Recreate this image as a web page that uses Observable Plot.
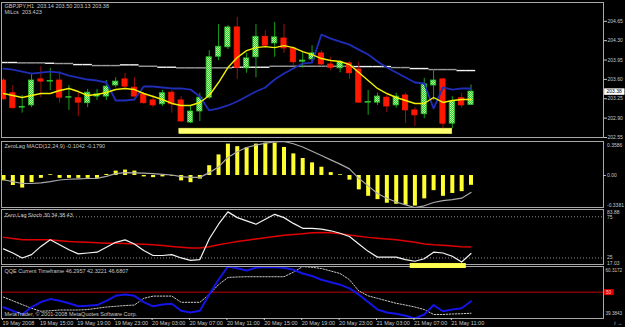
<!DOCTYPE html>
<html><head><meta charset="utf-8">
<script src="https://cdn.jsdelivr.net/npm/d3@7"></script>
<script src="https://cdn.jsdelivr.net/npm/@observablehq/plot@0.6"></script>
<style>
html,body{margin:0;padding:0;background:#000;}
#chart{position:relative;width:625px;height:327px;background:#000;overflow:hidden;}
#chart svg{position:absolute;left:0;top:0;background:transparent;}
</style></head><body><div id="chart"></div>
<script>
// ---------- DATA ----------
const timeLabels = ["19 May 2008","19 May 15:00","19 May 19:00","19 May 23:00","20 May 03:00","20 May 07:00","20 May 11:00","20 May 15:00","20 May 19:00","20 May 23:00","21 May 03:00","21 May 07:00","21 May 11:00"];
const open  = [203.58,203.35,203.09,203.13,203.60,203.56,203.58,203.27,203.26,203.17,203.29,203.29,203.49,203.60,203.45,203.33,203.22,203.15,203.36,203.22,202.82,203.02,203.27,204.01,204.18,204.54,203.80,204.00,204.37,204.25,204.34,204.16,203.92,203.96,204.07,203.87,203.80,203.89,203.78,203.18,203.18,203.27,203.13,203.31,203.04,202.97,203.49,203.60,202.80,203.26,203.14];
const high  = [203.62,203.49,203.31,203.71,203.83,203.80,203.74,203.49,203.35,203.42,203.42,203.58,203.63,203.71,203.63,203.36,203.31,203.40,203.40,203.29,203.11,203.35,204.12,204.59,204.57,204.72,204.07,204.59,204.48,204.63,204.59,204.19,204.09,204.21,204.12,204.00,203.94,203.92,203.91,203.40,203.35,203.31,203.35,203.35,203.09,203.62,203.78,203.62,203.29,203.35,203.50];
const low   = [203.22,203.06,202.99,203.09,203.27,203.40,203.17,203.04,202.93,203.09,203.22,203.22,203.45,203.44,203.27,203.15,203.09,203.11,202.99,202.82,202.80,202.84,203.24,203.94,204.14,203.60,203.71,203.63,204.18,204.00,204.07,203.85,203.80,203.89,203.83,203.76,203.72,203.60,203.17,202.95,203.13,203.00,203.08,202.80,202.75,202.89,203.22,202.71,202.71,203.08,203.13];
const close = [203.24,203.08,203.10,203.58,203.56,203.57,203.27,203.28,203.18,203.36,203.33,203.47,203.56,203.47,203.29,203.17,203.13,203.35,203.15,202.84,203.02,203.27,204.00,204.19,204.54,203.81,203.98,204.37,204.21,204.36,204.16,203.91,203.94,204.07,203.87,203.81,203.91,203.71,203.18,203.19,203.29,203.11,203.29,203.04,202.95,203.51,203.58,202.80,203.20,203.13,203.38];
const maYellow = [203.345,203.309,203.273,203.309,203.345,203.345,203.399,203.436,203.381,203.309,203.327,203.363,203.417,203.436,203.417,203.345,203.291,203.237,203.165,203.129,203.129,203.183,203.309,203.544,203.814,203.995,204.121,204.175,204.193,204.175,204.211,204.175,204.103,204.049,203.977,203.941,203.923,203.868,203.724,203.580,203.436,203.345,203.273,203.219,203.165,203.165,203.273,203.183,203.219,203.237,203.237];
const maBlue = [203.796,203.778,203.742,203.706,203.724,203.742,203.724,203.670,203.634,203.598,203.580,203.544,203.219,203.219,203.237,203.472,203.472,203.454,203.436,203.436,203.417,203.291,203.039,203.075,203.129,203.201,203.291,203.381,203.454,203.598,203.706,203.796,203.887,203.905,204.410,204.338,204.283,204.229,204.139,204.049,203.923,203.814,203.724,203.634,203.544,203.526,203.075,203.454,203.417,203.436,203.436];
const maWhite = [203.905,203.905,203.899,203.899,203.899,203.892,203.887,203.887,203.868,203.868,203.850,203.850,203.850,203.863,203.863,203.838,203.838,203.820,203.820,203.809,203.809,203.809,203.809,203.809,203.809,203.820,203.820,203.820,203.820,203.838,203.838,203.838,203.838,203.838,203.838,203.838,203.838,203.838,203.832,203.832,203.832,203.832,203.814,203.814,203.796,203.796,203.778,203.778,203.778,203.760,203.760];
const priceTicks = [204.65,204.30,203.95,203.60,203.25,202.90,202.55];
const priceHighlight = [{from: 18.8, to: 48.0, low: 202.61, high: 202.71}];
const macdHist = [-0.057,-0.106,-0.133,-0.076,-0.030,0.008,-0.030,-0.030,-0.030,-0.030,-0.030,0.011,0.046,0.057,0.046,-0.015,-0.023,-0.015,-0.008,-0.057,-0.076,-0.038,0.103,0.217,0.331,0.304,0.293,0.331,0.342,0.342,0.296,0.228,0.179,0.133,0.087,0.030,0.008,-0.049,-0.152,-0.220,-0.255,-0.293,-0.304,-0.315,-0.323,-0.247,-0.160,-0.220,-0.190,-0.171,-0.104];
const macdSignal = [-0.045,-0.065,-0.085,-0.085,-0.078,-0.065,-0.048,-0.040,-0.035,-0.032,-0.030,-0.010,0.020,0.030,0.028,0.025,0.020,0.012,0.005,-0.012,-0.020,-0.020,0.030,0.090,0.190,0.250,0.295,0.320,0.340,0.355,0.3586,0.335,0.300,0.255,0.210,0.165,0.120,0.070,-0.030,-0.110,-0.190,-0.240,-0.280,-0.310,-0.3381,-0.320,-0.285,-0.266,-0.255,-0.240,-0.179];
const stochMain = [36,31,25,29,39,47,41,35,30,31,32,38,44,47,42,34,28,28,29,25,22,23,48,66,81,74,70,66,72,78,74,67,61,61,60,58,55,51,42,33,26,26,26,23,21,24,32,31,27,20,30.34];
const stochSignal = [50,48.5,47,47,47,47,46,45,44.5,44,43.5,43,43,42.5,42,41.5,41,40,39,38,37,37,38.5,41,43,45,46.5,48,49.5,51,52.5,53.5,54.5,55.5,56,55.5,54.5,53,51.5,50,49,48,47,45.5,44,42,41,40.5,39.5,38.5,38.43];
const stochLevels = [75, 25];
const stochHighlight = [{from: 43.5, to: 49.5, low: 12.2, high: 18.2}];
const qqeMain = [43.9,42.5,41,44,46,47.2,46.5,45.5,44.3,44.5,44.8,46.5,48.5,49,48.5,46,44.3,45,45.3,42.5,41.8,42.5,49,55,60.3,59.6,58.7,59.8,60.1,60.0,59.8,59,57.5,56.5,55,54,53,51.5,49,46,43,41.8,41.3,40.5,39.4,41,44.8,42.3,43,43.5,46.3];
const qqeSlow = [48,46.5,45,43.5,42.3,42.5,42.8,42.8,42.8,43,43.5,44,44.3,44.6,44.8,47.5,48.4,48.4,48.4,45.9,45.9,45.9,49,53,55.9,56.1,56.2,56.2,56.2,56.2,56.2,58,60.3,60,59.5,58.5,57.5,55,50.5,48.5,47.5,46.5,45.5,44.8,44,43,41,41,41.2,41.3,41.5];
const qqeLevel = 50;
const titles = {
  main: "GBPJPY,H1  203.14 203.50 203.13 203.38",
  mainSub: "MiLcs  203.423",
  macd: "ZeroLag MACD(12,24,9) -0.1042 -0.1790",
  stoch: "Zero Lag Stoch 30.34 38.43",
  qqe: "QQE Current Timeframe 46.2957 42.3221 46.6807",
  copy: "MetaTrader, © 2001-2008 MetaQuotes Software Corp."
};
const macdRange = [-0.3381, 0.3586];
const stochRange = [17.03, 83.88];
const qqeRange = [39.3843, 60.3172];

// ---------- BUILD ----------
const W = 625, H = 327;
const XD = [-0.214, 64.17];
const TXT = "#c8c8c8";
const FONT = "Liberation Sans, Arial, sans-serif";
const FS = 5.5;
const FSR = 5;

const bars = close.map((c, i) => ({i, open: open[i], high: high[i], low: low[i], close: c, bull: c >= open[i]}));
let g = 0;
const whiteSteps = maWhite.map((v, i) => { if (i > 0 && v !== maWhite[i-1]) g++; return {i, v, g}; });
const idx = (arr) => arr.map((v, i) => ({i, v}));

function panel(top, bottom, ydomain, marks) {
  return Plot.plot({
    width: W, height: H,
    marginLeft: 1, marginRight: 22, marginTop: top, marginBottom: H - bottom,
    x: {type: "linear", domain: XD, axis: null},
    y: {type: "linear", domain: ydomain, axis: null},
    style: {background: "transparent", color: TXT, fontFamily: FONT, fontSize: FS + "px"},
    marks
  });
}
const rightLabel = (v, text, opt = {}) => Plot.text([v], {y: d => d, text: () => text, frameAnchor: "right", dx: 3.5, textAnchor: "start", fill: TXT, fontSize: FSR, ...opt});
const rightTick = (vals) => Plot.ruleY(vals, {x1: XD[1], x2: XD[1] + 0.3, stroke: TXT, strokeWidth: 1});

const chart = document.getElementById("chart");

// Main price panel
const lastClose = close[close.length - 1];
const mainSvg = panel(2, 137, [202.55, 204.99], [
  Plot.rect(priceHighlight, {x1: "from", x2: "to", y1: "low", y2: "high", fill: "#ffff70", stroke: "#e8e850", strokeWidth: 0.5}),
  Plot.ruleY(whiteSteps, {y: "v", x1: d => d.i - 0.5, x2: d => d.i + 0.5, stroke: d => d.g % 2 ? "#9c9c9c" : "#f4f4f4", strokeWidth: 1.4, clip: true}),
  Plot.ruleX(bars, {x: "i", y1: "low", y2: "high", stroke: d => d.bull ? "#18a018" : "#a01010", strokeWidth: 1, clip: true}),
  Plot.rect(bars, {x1: d => d.i - 0.28, x2: d => d.i + 0.28, y1: "open", y2: "close",
    fill: d => d.bull ? "url(#bullPat)" : "#ff1800", stroke: d => d.bull ? "#2cc02c" : "#ff1800", strokeWidth: 0.8, clip: true}),
  Plot.line(bars, {x: "i", y: d => maBlue[d.i], stroke: "#1f2db8", strokeWidth: 1.8, clip: true}),
  Plot.line(bars, {x: "i", y: d => maYellow[d.i], stroke: "#f0f000", strokeWidth: 1.4, clip: true}),
  Plot.frame({stroke: "#a8a8a8"}),
  Plot.axisY(priceTicks, {anchor: "right", tickSize: 3, tickPadding: 1, tickFormat: d => d.toFixed(2), fontSize: FSR}),
  Plot.ruleY([lastClose], {x1: XD[1] + 0.12, x2: XD[1] + 2.3, stroke: "white", strokeWidth: 6.5}),
  Plot.text([lastClose], {y: d => d, text: d => d.toFixed(2), frameAnchor: "right", dx: 3, textAnchor: "start", fill: "black", fontSize: FSR}),
  Plot.text([titles.main], {frameAnchor: "top-left", dx: 3, dy: 1.5, fill: TXT, fontSize: FS}),
  Plot.text([titles.mainSub], {frameAnchor: "top-left", dx: 3, dy: 8, fill: TXT, fontSize: FS})
]);
const NS = "http://www.w3.org/2000/svg";
const defs = document.createElementNS(NS, "defs");
const pat = document.createElementNS(NS, "pattern");
pat.setAttribute("id", "bullPat"); pat.setAttribute("width", "2"); pat.setAttribute("height", "2");
pat.setAttribute("patternUnits", "userSpaceOnUse");
[[0,0,2,2,"#30c830"],[0,0,1,1,"#b4ff9a"],[1,1,1,1,"#b4ff9a"]].forEach(([x,y,w,h,f]) => {
  const r = document.createElementNS(NS, "rect");
  r.setAttribute("x", x); r.setAttribute("y", y); r.setAttribute("width", w); r.setAttribute("height", h); r.setAttribute("fill", f);
  pat.appendChild(r);
});
defs.appendChild(pat); mainSvg.insertBefore(defs, mainSvg.firstChild);
chart.appendChild(mainSvg);

// MACD panel
chart.appendChild(panel(141, 207, macdRange, [
  Plot.ruleX(idx(macdHist), {x: "i", y1: () => 0, y2: "v", stroke: "#ffff30", strokeWidth: 4}),
  Plot.line(idx(macdSignal), {x: "i", y: "v", stroke: "#a8a8a8", strokeWidth: 1.2}),
  Plot.frame({stroke: "#a8a8a8"}),
  rightTick([0]),
  rightLabel(macdRange[1], macdRange[1].toFixed(4), {lineAnchor: "top", dy: 2}),
  rightLabel(0, "0.00"),
  rightLabel(macdRange[0], macdRange[0].toFixed(4), {lineAnchor: "bottom", dy: -1}),
  Plot.text([titles.macd], {frameAnchor: "top-left", dx: 3, dy: 2.5, fill: TXT, fontSize: FS})
]));

// QQE panel
chart.appendChild(panel(266, 318, qqeRange, [
  Plot.ruleY([qqeLevel], {stroke: "#c00000", strokeWidth: 1}),
  Plot.line(idx(qqeSlow), {x: "i", y: "v", stroke: "#c8c8c8", strokeWidth: 1, strokeDasharray: "1.5,1.5"}),
  Plot.line(idx(qqeMain), {x: "i", y: "v", stroke: "#1414e6", strokeWidth: 2}),
  Plot.frame({stroke: "#a8a8a8"}),
  rightLabel(qqeRange[1], qqeRange[1].toFixed(4), {lineAnchor: "top", dy: 2, dx: 2, fontSize: 4.6}),
  rightLabel(qqeRange[0], qqeRange[0].toFixed(4), {lineAnchor: "bottom", dy: -4, dx: 2, fontSize: 4.6}),
  Plot.ruleY([qqeLevel], {x1: XD[1] + 0.1, x2: XD[1] + 1.15, stroke: "#e00000", strokeWidth: 6}),
  rightLabel(qqeLevel, String(qqeLevel), {dx: 2.5, fill: "#ffd0d0", fontSize: 4.5}),
  Plot.text([titles.qqe], {frameAnchor: "top-left", dx: 3, dy: 2.5, fill: TXT, fontSize: FS}),
  Plot.text([titles.copy], {frameAnchor: "bottom-left", dx: 3, dy: -3, fill: TXT, fontSize: FS}),
  Plot.axisX(d3.range(0, timeLabels.length * 4, 4), {anchor: "bottom", tickSize: 2, tickPadding: 0.5,
    tickFormat: i => timeLabels[i / 4], textAnchor: "start", dx: -1, fontSize: FS})
]));

// Stochastic panel (drawn last so its highlight sits over the separator)
chart.appendChild(panel(209, 264, stochRange, [
  Plot.ruleY(stochLevels, {stroke: "#8c8c8c", strokeDasharray: "1,2"}),
  Plot.line(idx(stochSignal), {x: "i", y: "v", stroke: "#e00000", strokeWidth: 1.5}),
  Plot.line(idx(stochMain), {x: "i", y: "v", stroke: "#f4f4f4", strokeWidth: 1.2}),
  Plot.frame({stroke: "#a8a8a8"}),
  Plot.rect(stochHighlight, {x1: "from", x2: "to", y1: "low", y2: "high", fill: "#ffff50"}),
  rightLabel(stochRange[1], stochRange[1].toFixed(2), {lineAnchor: "top", dy: 0.5}),
  rightLabel(stochLevels[0], String(stochLevels[0]), {lineAnchor: "top", dy: -1}),
  rightLabel(stochLevels[1], String(stochLevels[1]), {lineAnchor: "bottom", dy: 1}),
  rightLabel(stochRange[0], stochRange[0].toFixed(2), {lineAnchor: "bottom", dy: 0.5}),
  Plot.text([titles.stoch], {frameAnchor: "top-left", dx: 3, dy: 3.5, fill: TXT, fontSize: FS})
]));
</script></body></html>
